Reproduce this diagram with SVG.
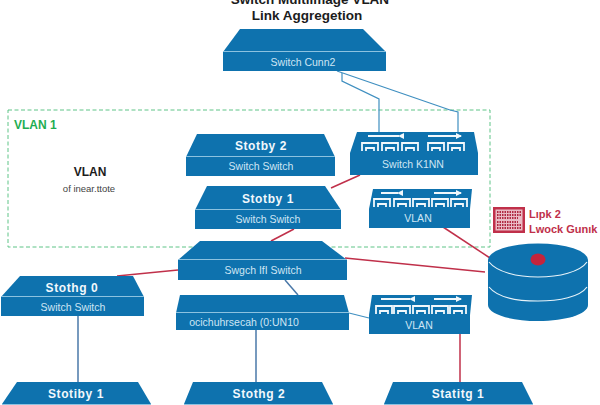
<svg xmlns="http://www.w3.org/2000/svg" width="600" height="405" viewBox="0 0 600 405">
<defs>
<style>
text{font-family:"Liberation Sans",Arial,sans-serif}
.top{fill:#0e72ae}
.body{fill:#0e72ae}
.ln{stroke:#8cc2e0;stroke-width:1;fill:none}
.t{font-size:10.5px;fill:#cfe6f4;text-anchor:middle}
.h{font-size:12px;font-weight:bold;fill:#f2f8fc;text-anchor:middle;letter-spacing:.6px}
.red{stroke:#c0304a;stroke-width:1.5;fill:none}
.blue{stroke:#3f8fc0;stroke-width:1.2;fill:none}
.slate{stroke:#4a78a8;stroke-width:1.5;fill:none}
.arrow{stroke:#f2f8fc;stroke-width:2;fill:none}
.port{fill:none;stroke:#f2f8fc;stroke-width:1.8}
.rl{font-size:11px;font-weight:bold;fill:#c0304a}
.ic{stroke:#f4dfe3;stroke-width:2;stroke-dasharray:1.500 1;fill:none}
</style>
<g id="ports5">
<path class="port" d="M1 9V1H17V9M5 9V6H13V9"/>
</g>
<marker id="ah" markerWidth="3" markerHeight="3" refX="2.500" refY="1.500" orient="auto"><path d="M0 0L3 1.500L0 3Z" fill="#f2f8fc"/></marker>
</defs>
<rect width="600" height="405" fill="#fff"/>
<text x="310" y="4" font-size="13.500" font-weight="bold" text-anchor="middle" fill="#1c1c1c">Switch Multiimage VLAN</text>
<text x="307" y="20" font-size="13.500" font-weight="bold" text-anchor="middle" fill="#1c1c1c">Link Aggregetion</text>

<rect id="vlan-zone" x="8" y="110" width="482" height="137" fill="none" stroke="#5fc487" stroke-width="1" stroke-dasharray="4 2.500"/>
<text x="14" y="129" font-size="12" font-weight="bold" fill="#1ead52">VLAN 1</text>
<text x="90" y="176" font-size="12" font-weight="bold" text-anchor="middle" fill="#1c1c1c">VLAN</text>
<text x="89" y="192" font-size="9.500" text-anchor="middle" fill="#444">of inear.ttote</text>

<g id="connectors">
<path class="blue" d="M337 71L450 110L458 112V132"/>
<path class="blue" d="M342 73V81L379 99V132"/>
<path class="red" d="M331 188L360 175"/>
<path class="red" d="M294 229L271 241"/>
<path class="red" d="M443 227L490 258"/>
<path class="red" d="M345 258L485 272"/>
<path class="red" d="M178 270L117 276"/>
<path class="slate" d="M285 280L298 295"/>
<path class="slate" d="M78 316V382"/>
<path class="slate" d="M256 330V382"/>
<path class="blue" d="M349 313L369 318"/>
<path class="red" d="M460 334V382"/>
</g>

<g id="switch-top">
<path class="top" d="M240 29H363L386 52H223Z"/><rect class="body" x="223" y="52" width="163" height="19"/><path class="ln" d="M223 51.500H386"/>
<text class="t" x="303" y="66">Switch Cunn2</text>
</g>
<g id="stotby-2">
<path class="top" d="M197 134H324L335 157H186Z"/><rect class="body" x="186" y="157" width="149" height="19"/><path class="ln" d="M186 156.500H335"/>
<text class="h" x="261" y="150">Stotby 2</text><text class="t" x="261" y="170">Switch Switch</text>
</g>
<g id="stotby-1">
<path class="top" d="M207 186H325L341 210H195Z"/><rect class="body" x="195" y="210" width="146" height="19"/><path class="ln" d="M195 209.500H341"/>
<text class="h" x="268" y="203">Stotby 1</text><text class="t" x="268" y="223">Switch Switch</text>
</g>
<g id="switch-center">
<path class="top" d="M200 241H322L347 260H178Z"/><rect class="body" x="178" y="260" width="169" height="20"/><path class="ln" d="M178 259.500H347"/>
<text class="t" x="263" y="274">Swgch IfI Switch</text>
</g>
<g id="stotby-0">
<path class="top" d="M20 276H133L144 297H1Z"/><rect class="body" x="1" y="297" width="143" height="19"/><path class="ln" d="M1 296.500H144"/>
<text class="h" x="72" y="292">Stothg 0</text><text class="t" x="73" y="311">Switch Switch</text>
</g>
<g id="switch-middle">
<path class="top" d="M180 295H344L349 313H176Z"/><rect class="body" x="176" y="313" width="173" height="17"/><path class="ln" d="M176 312.500H349"/>
<text class="t" x="244" y="326" font-size="9.500">ocichuhrsecah (0:UN10</text>
</g>

<g id="switch-ports-top">
<path class="top" d="M357 132H474L478 153H350Z"/><rect class="body" x="350" y="153" width="128" height="22"/>
<path class="arrow" marker-start="url(#ah)" d="M399 136H368"/><path class="arrow" marker-end="url(#ah)" d="M428 136H461"/>
<use href="#ports5" x="361" y="142"/><use href="#ports5" x="381" y="142"/><use href="#ports5" x="401" y="142"/><use href="#ports5" x="427" y="142"/><use href="#ports5" x="447" y="142"/>
<text class="t" x="413" y="168">Switch K1NN</text>
</g>
<g id="switch-vlan-a">
<path class="top" d="M373 189H472L470 209H369Z"/><rect class="body" x="369" y="209" width="101" height="19"/>
<path class="arrow" marker-start="url(#ah)" d="M398 193H381"/><path class="arrow" marker-end="url(#ah)" d="M434 193H461"/>
<use href="#ports5" x="373" y="198"/><use href="#ports5" x="393" y="198"/><use href="#ports5" x="412" y="198"/><use href="#ports5" x="431" y="198"/><use href="#ports5" x="450" y="198"/>
<text class="t" x="418" y="222">VLAN</text>
</g>
<g id="switch-vlan-b">
<path class="top" d="M372 295H472L470 315H369Z"/><rect class="body" x="369" y="315" width="101" height="19"/>
<path class="arrow" marker-start="url(#ah)" d="M410 299H381"/><path class="arrow" marker-end="url(#ah)" d="M434 299H461"/>
<use href="#ports5" x="375" y="305"/><use href="#ports5" x="393" y="305"/><use href="#ports5" x="412" y="305"/><use href="#ports5" x="431" y="305"/><use href="#ports5" x="449" y="305"/>
<text class="t" x="419" y="329">VLAN</text>
</g>

<g id="storage">
<path d="M488 260V305C488 314 510 321 538 321S588 314 588 305V260Z" fill="#0e72ae"/>
<ellipse cx="538" cy="260" rx="50" ry="16.500" fill="#0e72ae"/>
<path d="M489 262C497 272 517 277 538 277S580 272 587 262" fill="none" stroke="#e8f3f9" stroke-width="1.200"/>
<path d="M489 287C497 297 517 301 538 301S580 297 587 287" fill="none" stroke="#e8f3f9" stroke-width="1.200"/>
<ellipse cx="538" cy="259.500" rx="7.500" ry="6" fill="#c4243c"/>
</g>
<g id="lock-badge">
<rect x="493" y="207" width="32" height="26" fill="#c0304a"/>
<rect x="495.500" y="209.500" width="27" height="21" fill="#e9bcc5"/>
<path class="ic" d="M497 212H521M497 215H521M497 218H518M497 222H518M497 225H521M497 228H521" style="stroke:#b02a42"/>
<text class="rl" x="529" y="218">Lıpk 2</text>
<text class="rl" x="529" y="233" font-size="10">Lwock Gunık</text>
</g>

<g id="stotby-1-left">
<path class="top" d="M17 382H138L151 404H2Z"/><path class="ln" d="M2 404.500H151"/>
<text class="h" x="76" y="398">Stotiby 1</text>
</g>
<g id="stotby-2-mid">
<path class="top" d="M193 382H322L333 404H184Z"/><path class="ln" d="M184 404.500H333"/>
<text class="h" x="259" y="398">Stothg 2</text>
</g>
<g id="stotby-1-right">
<path class="top" d="M393 382H522L533 404H384Z"/><path class="ln" d="M384 404.500H533"/>
<text class="h" x="458" y="398">Statitg 1</text>
</g>
</svg>
